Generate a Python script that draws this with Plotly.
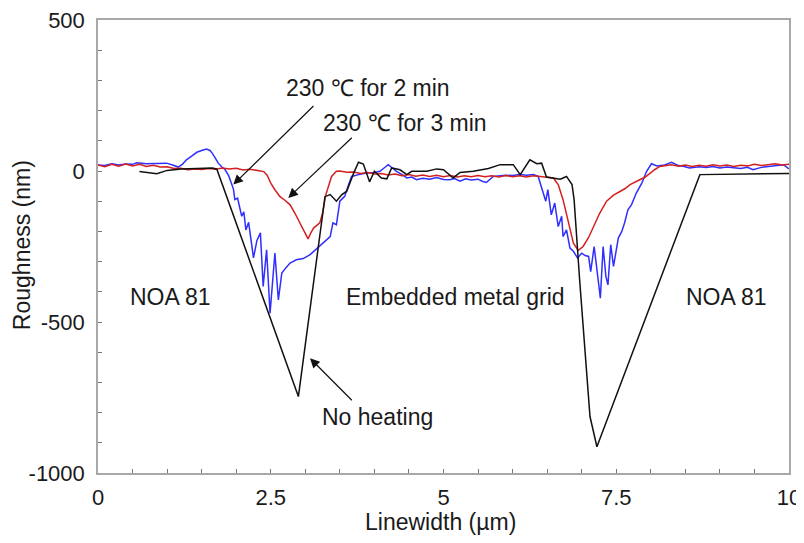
import plotly.graph_objects as go

# No heating (black)
nh_x = [0.6, 0.85, 1.0, 1.2, 1.66, 1.72, 2.90, 3.285, 3.36, 3.45, 3.53, 3.60, 3.70, 3.77, 3.84,
        3.93, 4.0, 4.10, 4.18, 4.25, 4.37, 4.47, 4.54, 4.76, 4.90, 5.0, 5.14, 5.24, 5.43, 5.55,
        5.65, 5.82, 6.01, 6.11, 6.25, 6.35, 6.42, 6.49, 6.69, 6.78, 6.86, 6.89, 6.92, 6.97,
        7.12, 7.22, 8.71, 10.0]
nh_y = [-2, -9, 2, 7, 10, 6, -747, -85, -78, -100, -78, -67, -7, 29, 23,
        -36, -1, -23, -26, 10, 4, -12, -1, -1, 7, 4, -23, -5, -1, 4,
        8, 21, 21, -12, 37, 24, 26, -20, -27, -18, -45, -95, -195, -360,
        -813, -913, -12, -8]

# 230 C for 3 min (red)
h3_x = [0.0, 0.1, 0.2, 0.3, 0.4, 0.5, 0.6, 0.7, 0.8, 0.9, 1.0, 1.1, 1.2, 1.3, 1.4, 1.5, 1.6, 1.7,
        1.8, 1.9, 2.0, 2.1, 2.2, 2.3, 2.4, 2.45, 2.5, 2.56, 2.63, 2.7, 2.78, 2.85, 2.92, 2.98,
        3.04, 3.08, 3.12, 3.21, 3.25, 3.29, 3.34, 3.38, 3.45, 3.5, 3.6, 3.7, 3.8, 3.9, 4.0, 4.1,
        4.2, 4.3, 4.4, 4.5, 4.6, 4.7, 4.8, 4.9, 5.0, 5.1, 5.2, 5.3, 5.4, 5.5, 5.6, 5.7, 5.8, 5.9,
        6.0, 6.1, 6.2, 6.3, 6.4, 6.5, 6.59, 6.66, 6.73, 6.81, 6.88, 6.95, 7.02, 7.1, 7.17, 7.26,
        7.36, 7.46, 7.56, 7.63, 7.70, 7.77, 7.84, 7.92, 7.99, 8.06, 8.13, 8.2, 8.3, 8.4, 8.5,
        8.6, 8.7, 8.8, 8.9, 9.0, 9.1, 9.2, 9.3, 9.4, 9.5, 9.6, 9.7, 9.8, 9.9, 10.0]
h3_y = [20, 14, 22, 16, 23, 17, 22, 15, 19, 13, 14, 8, 9, 4, 7, 5, 8, 6,
        10, 7, 9, 3, 6, 2, -2, -15, -40, -62, -84, -96, -112, -140, -172, -200,
        -225, -205, -189, -172, -140, -84, -45, -18, -1, 0, -4, -3, -8, -5, -10, -8,
        -13, -10, -16, -12, -17, -13, -18, -14, -19, -15, -20, -16, -19, -15, -19, -16, -20, -15,
        -19, -16, -20, -16, -18, -20, -23, -45, -95, -172, -239, -263, -250, -220, -184, -140,
        -100, -80, -67, -58, -45, -38, -29, -20, -7, 5, 15, 18, 21, 16, 20,
        15, 19, 16, 21, 17, 20, 15, 19, 17, 22, 18, 21, 24, 20, 22]

# 230 C for 2 min (blue)
h2_x = [0.0, 0.1, 0.2, 0.3, 0.4, 0.5, 0.56, 0.7, 0.85, 0.99, 1.08, 1.16, 1.22, 1.28, 1.36, 1.43,
        1.50, 1.57, 1.62, 1.65, 1.70, 1.74, 1.79, 1.84, 1.89, 1.93, 1.96, 1.98, 2.02, 2.05, 2.08,
        2.11, 2.14, 2.18, 2.22, 2.25, 2.30, 2.35, 2.39, 2.44, 2.49, 2.56, 2.61, 2.66, 2.72, 2.78,
        2.87, 2.97, 3.07, 3.13, 3.19, 3.26, 3.36, 3.40, 3.45, 3.50, 3.57, 3.62, 3.67, 3.77, 3.89,
        4.0, 4.08, 4.14, 4.20, 4.26, 4.32, 4.4, 4.47, 4.54, 4.61, 4.7, 4.8, 4.9, 5.0, 5.09, 5.16,
        5.24, 5.32, 5.4, 5.5, 5.56, 5.62, 5.72, 5.8, 5.9, 6.0, 6.1, 6.2, 6.30, 6.37, 6.40, 6.44,
        6.48, 6.51, 6.56, 6.61, 6.66, 6.71, 6.73, 6.78, 6.83, 6.88, 6.94, 7.0, 7.05, 7.10, 7.13,
        7.18, 7.22, 7.27, 7.31, 7.35, 7.38, 7.42, 7.46, 7.53, 7.58, 7.62, 7.67, 7.72, 7.79, 7.87,
        7.94, 8.01, 8.09, 8.2, 8.30, 8.4, 8.47, 8.56, 8.7, 8.8, 8.90, 9.0, 9.1, 9.19, 9.3, 9.4,
        9.48, 9.6, 9.7, 9.8, 9.92, 10.0]
h2_y = [20, 18, 24, 20, 23, 22, 27, 24, 25, 26, 20, 13, 22, 37, 50, 62,
        68, 73, 68, 60, 42, 26, 14, 4, -15, -40, -60, -95, -90, -120, -150,
        -135, -195, -170, -240, -288, -230, -205, -382, -261, -471, -272, -427, -338, -320, -305,
        -294, -290, -277, -265, -250, -239, -217, -172, -178, -100, -84, -50, -18, -12, -7,
        -5, -1, 10, 21, 10, -1, -12, -23, -20, -29, -24, -27, -22, -28, -29, -25,
        -34, -26, -30, -27, -34, -38, -18, -16, -14, -15, -12, -14, -12, -18, -40, -73,
        -100, -62, -145, -106, -184, -150, -217, -195, -255, -266, -288, -272, -280, -283, -333,
        -250, -327, -421, -250, -349, -377, -244, -316, -222, -200, -172, -128, -112, -73, -40,
        -1, 24, 17, 20, 29, 18, 16, 10, 14, 12, 15, 10, 13, 10, 8, 12,
        4, 12, 15, 18, 21, 7]

x_ticks = [0, 2.5, 5, 7.5, 10]
x_tick_labels = ["0", "2.5", "5", "7.5", "10"]
y_ticks = [500, 0, -500, -1000]
y_tick_labels = ["500", "0", "-500", "-1000"]

FONT = "Liberation Sans, Arial, sans-serif"
FS_TEXT = 23
FS_TICK = 22
FS_TITLE = 23
TXT = "#1a1a1a"

fig = go.Figure()
fig.add_trace(go.Scatter(x=h2_x, y=h2_y, mode="lines", line=dict(color="#2f2fff", width=1.5),
                         name="230 ℃ for 2 min"))
fig.add_trace(go.Scatter(x=h3_x, y=h3_y, mode="lines", line=dict(color="#d42020", width=1.5),
                         name="230 ℃ for 3 min"))
fig.add_trace(go.Scatter(x=nh_x, y=nh_y, mode="lines", line=dict(color="#111111", width=1.5),
                         name="No heating"))

# arrows (tip x, tip y, tail x, tail y)
arrows = [
    (1.958, -45, 3.14, 220),
    (2.754, -89, 3.695, 115),
    (3.068, -620, 3.695, -764),
]
for (tx, ty, sx, sy) in arrows:
    fig.add_annotation(x=tx, y=ty, ax=sx, ay=sy, xref="x", yref="y", axref="x", ayref="y",
                       showarrow=True, arrowhead=2, arrowsize=1.6, arrowwidth=1.2,
                       arrowcolor="#111111", text="")

labels = [
    ("230 ℃ for 2 min", 3.907, 276),
    ("230 ℃ for 3 min", 4.443, 160),
    ("No heating", 4.05, -814),
    ("NOA 81", 1.05, -418),
    ("Embedded metal grid", 5.175, -418),
    ("NOA 81", 9.1, -418),
]
for (t, x, y) in labels:
    fig.add_annotation(x=x, y=y, xref="x", yref="y", text=t, showarrow=False,
                       font=dict(family=FONT, size=FS_TEXT, color=TXT))

# axis titles
fig.add_annotation(x=0.495, y=-0.108, xref="paper", yref="paper", text="Linewidth (µm)",
                   showarrow=False, xanchor="center", yanchor="middle",
                   font=dict(family=FONT, size=FS_TITLE, color=TXT))
fig.add_annotation(x=-0.11, y=0.503, xref="paper", yref="paper", text="Roughness (nm)",
                   showarrow=False, xanchor="center", yanchor="middle", textangle=-90,
                   font=dict(family=FONT, size=FS_TITLE, color=TXT))

axis_common = dict(showline=True, linecolor="#a8a8a8", linewidth=1.5, mirror=True,
                   ticks="inside", ticklen=4, tickcolor="#777777", showgrid=False,
                   zeroline=False, automargin=False, ticklabeloverflow="allow",
                   tickfont=dict(family=FONT, size=FS_TICK, color=TXT))

fig.update_xaxes(range=[0, 10], tickmode="array", tickvals=x_ticks, ticktext=x_tick_labels,
                 minor=dict(dtick=0.5, ticks="inside", ticklen=4, tickcolor="#777777"),
                 ticklabelstandoff=4,
                 **axis_common)
fig.update_yaxes(range=[-1000, 500], tickmode="array", tickvals=y_ticks, ticktext=y_tick_labels,
                 minor=dict(dtick=100, ticks="inside", ticklen=4, tickcolor="#777777"),
                 ticklabelstandoff=7,
                 **axis_common)

fig.update_layout(width=796, height=527, margin=dict(l=90, r=15, t=12, b=62),
                  paper_bgcolor="white", plot_bgcolor="white", showlegend=False)

fig.write_html("out.html")
